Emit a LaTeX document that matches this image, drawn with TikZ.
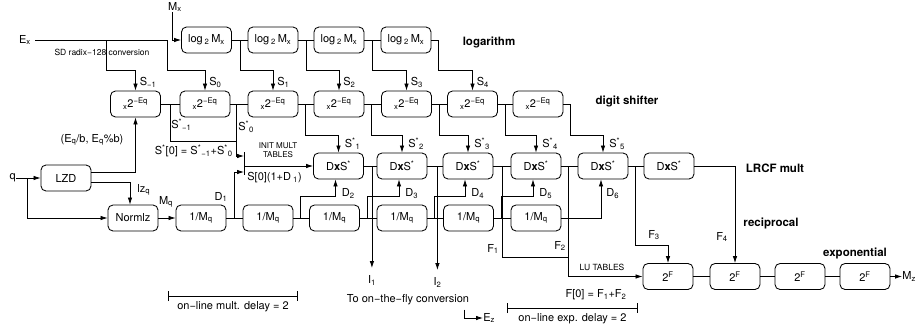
\documentclass[tikz,border=0pt]{standalone}
\usepackage{fontspec}
\setmainfont{TeX Gyre Heros}
\usetikzlibrary{arrows.meta,calc,positioning}
\newcommand{\subx}[1]{\textsubscript{#1}}
\newcommand{\supx}[1]{\textsuperscript{#1}}
\tikzset{
  blk/.style      = {draw, line width=0.85pt, rounded corners=5pt, minimum width=50pt,
                     minimum height=26pt, inner sep=1pt},
  arr/.style      = {-{Latex[length=7pt,width=4.5pt]}},
  lbl/.style      = {inner sep=0pt},
  smalltxt/.style = {inner sep=0pt, font=\fontsize{8.5}{9.5}\selectfont},
  rowname/.style  = {inner sep=0pt, font=\fontsize{11.5}{13}\selectfont\bfseries},
  delay/.style    = {{Bar[width=10pt]}-{Bar[width=10pt]}},
}

\begin{document}
\begin{tikzpicture}[x=1pt,y=-1pt,line width=0.75pt,font=\fontsize{11}{13}\selectfont]
  \useasboundingbox (0,0) rectangle (921,332);
  % the five rows of cells
  \foreach \i/\x in {1/206.5,2/273,3/339,4/406}
     {\node[blk] (L\i) at (\x,40) {log\,\subx{2}\,M\subx{x}};}
  \foreach \i/\x in {1/135.5,2/205,3/273,4/339,5/406.5,6/472.5,7/538}
     {\node[blk] (X\i) at (\x,104) {\subx{x}2\supx{−Eq}};}
  \foreach \i/\x in {1/338.5,2/402,3/468,4/536,5/603,6/669}
     {\node[blk] (M\i) at (\x,166) {D\textbf{x}S\supx{*}};}
  \foreach \i/\x in {1/201,2/268,3/334.5,4/402,5/468.5,6/536}
     {\node[blk] (R\i) at (\x,218) {1/M\subx{q}};}
  \foreach \i/\x in {1/668,2/735,3/800,4/865}
     {\node[blk] (E\i) at (\x,276.5) {2\supx{F}};}
  \node[blk] (lzd) at (66,178) {LZD};
  \node[blk] (nrm) at (133,218) {Normlz};
  \node[rowname] at (489,42) {logarithm};
  \node[rowname] at (627,101) {digit shifter};
  \node[rowname] at (775,168) {LRCF mult};
  \node[rowname] at (771,223) {reciprocal};
  \node[rowname] at (855,253) {exponential};

  % inputs and outputs
  \node[lbl] (mx) at (175,7) {M\subx{x}};
  \node[lbl] (ex) at (25,40) {E\subx{x}};
  \node[lbl,anchor=east] (q) at (16,178) {q};
  \node[lbl,anchor=west] (mz) at (902,276.5) {M\subx{z}};

  % logarithm
  \draw[arr] ([xshift=-3pt]mx.south) |- (L1.west);
  \coordinate (ea) at (106,40);
  \coordinate (eb) at (167,40);
  \draw ([xshift=4pt]ex.east) -- (eb);
  \draw[arr] (ea) -- ++(0,30) -| (X1.north);
  \draw[arr] (eb) -- ++(0,30) -| (X2.north);
  \node[smalltxt] at (102,52) {SD radix−128 conversion};
  \foreach \i/\j/\k in {1/2/3,2/3/4,3/4/5}
     {\draw (L\i.east) -- (L\j.west);
      \draw[arr] ([xshift=8pt]L\i.east) -- ++(0,30) -| (X\k.north);}
  \draw[arr] (L4.east) -- ++(7,0) -- ++(0,30) -| (X6.north);
  \foreach \k/\s in {1/{−1},2/0,3/1,4/2,5/3,6/4}
     {\node[lbl,anchor=south west] at ([xshift=4pt,yshift=3pt]X\k.north) {S\subx{\s}};}

  % digit shifter
  \foreach \i/\j in {1/2,2/3,3/4,4/5,5/6,6/7}
     {\draw (X\i.east) -- (X\j.west);}
  \foreach \i/\k in {3/1,4/2,5/3,6/4}
     {\draw[arr] ([xshift=7pt]X\i.east) -- ++(0,31) -| (M\k.north);}
  \draw[arr] (X7.east) -- ++(7,0) -- ++(0,31) -| (M5.north);
  \foreach \k in {1,...,5}
     {\node[lbl,anchor=south west] at ([xshift=6pt,yshift=3pt]M\k.north) {S\supx{*}\subx{\k}};}

  % initial multiplication
  \coordinate (jn) at (244,166);
  \draw ([yshift=14pt]jn) -- ([yshift=-9pt]jn);
  \draw[arr] (jn) -- (M1.west);
  \draw ([xshift=9pt]X1.east) -- ++(0,37) -| ([xshift=6pt]X2.east);
  \draw[arr] ([xshift=6pt]X2.east) |- ([yshift=10pt]jn);
  \draw[arr] ([xshift=8pt]R1.east) |- ([yshift=-6pt]jn);
  \node[lbl,anchor=west] at (171,125) {S\supx{*}\subx{−1}};
  \node[lbl,anchor=west] at (238,127) {S\supx{*}\subx{0}};
  \node[lbl,anchor=east] at (233,151) {S\supx{*}[0] = S\supx{*}\subx{−1}+S\supx{*}\subx{0}};
  \node[smalltxt,align=center,font=\fontsize{8}{9}\selectfont] at (278,150) {INIT MULT\\TABLES};
  \node[lbl,anchor=west] at (247,178) {S[0](1+D\subx{ 1})};

  % leading zeros and normalization
  \draw[arr] (q.east) -- (lzd.west);
  \draw[arr] ([xshift=11pt]q.east) |- (nrm.west);
  \draw[arr] ([yshift=6pt]lzd.east) -| (X1.south);
  \draw[arr] ([yshift=-4pt]lzd.east) -| ([xshift=-3pt]nrm.north);
  \draw[arr] (nrm.east) -- (R1.west);
  \node[lbl] at (92,140) {(E\subx{q}/b, E\subx{q}\%b)};
  \node[lbl,anchor=west] at (137,190) {lz\subx{q}};
  \node[lbl] at (166,202) {M\subx{q}};
  \node[lbl] at (221,197) {D\subx{1}};

  % reciprocal
  \foreach \i/\j in {1/2,2/3,3/4,4/5,5/6}
     {\draw (R\i.east) -- (R\j.west);}
  \foreach \i/\k in {2/1,3/2,4/3,5/4}
     {\draw[arr] ([xshift=7pt]R\i.east) -- ++(0,-22) -| ([xshift=-3pt]M\k.south);}
  \draw[arr] (R6.east) -| ([xshift=-2pt]M5.south);
  \foreach \k/\d in {1/2,2/3,3/4,4/5,5/6}
     {\node[lbl,anchor=west] at ([xshift=3pt,yshift=-14pt]M\k.south) {D\subx{\d}};}

  % LRCF mult
  \foreach \i/\j in {1/2,2/3,3/4,4/5,5/6}
     {\draw (M\i.east) -- (M\j.west);}
  \draw[arr] ([xshift=8pt]M1.east) -- ++(0,102) node[lbl,below=7pt] (i1) {I\subx{1}};
  \draw[arr] ([xshift=10pt]M2.east) -- ++(0,104) node[lbl,below=7pt] (i2) {I\subx{2}};
  \node[lbl] (tofly) at (408,300) {To on−the−fly conversion};
  \node[lbl,anchor=west] (ez) at (483,318) {E\subx{z}};
  \draw[arr] ([xshift=-5pt,yshift=-4pt]tofly.south east) |- (ez.west);

  % exponential
  \draw ([xshift=9pt]M3.east) -- ++(0,91) -| ([xshift=7pt]M4.east);
  \draw[arr] ([xshift=7pt]M4.east) |- (E1.west);
  \draw[arr] ([xshift=7pt]M5.east) -- ++(0,79) -| (E1.north);
  \draw[arr] (M6.east) -| (E2.north);
  \foreach \i/\j in {1/2,2/3,3/4}
     {\draw (E\i.east) -- (E\j.west);}
  \draw[arr] (E4.east) -- (mz.west);
  \node[lbl] at (493,249) {F\subx{1}};
  \node[lbl] at (560,246) {F\subx{2}};
  \node[lbl] at (654,235) {F\subx{3}};
  \node[lbl] at (722,237) {F\subx{4}};
  \node[smalltxt] at (602,267) {LU TABLES};
  \node[lbl] at (596,295) {F[0] = F\subx{1}+F\subx{2}};

  % delays
  \coordinate (da) at (168,296);
  \coordinate (db) at (298,296);
  \draw[delay] (da) -- (db) node[midway,below=5pt,lbl] {on−line mult. delay = 2};
  \coordinate (dc) at (507,308);
  \draw[delay] (dc) -- ++(131,0) node[midway,below=5pt,lbl] {on−line exp. delay = 2};
\end{tikzpicture}
\end{document}
